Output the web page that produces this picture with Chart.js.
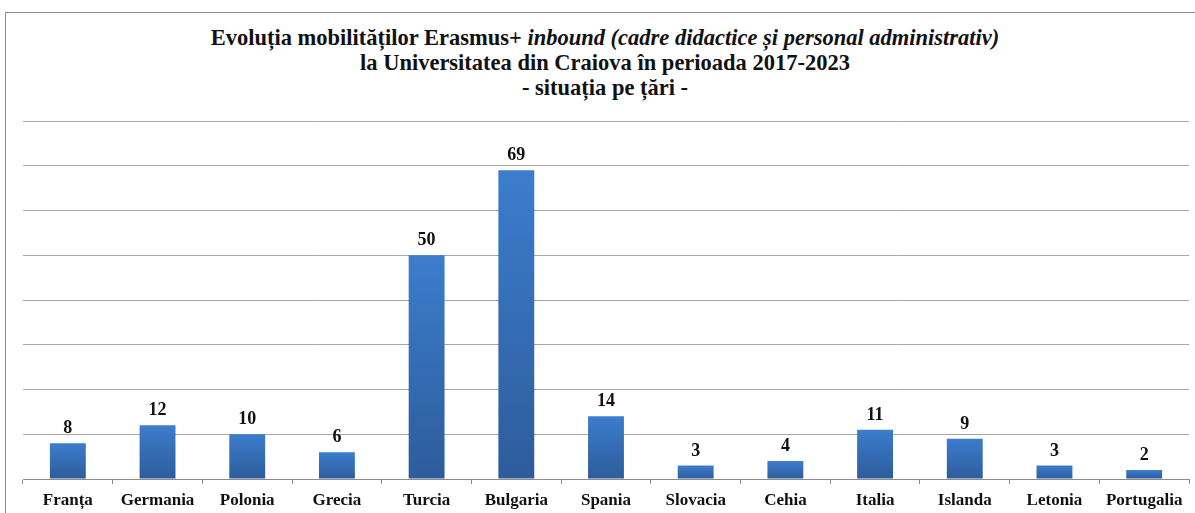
<!DOCTYPE html>
<html>
<head>
<meta charset="utf-8">
<script src="https://cdn.jsdelivr.net/npm/chart.js@4.4.1/dist/chart.umd.min.js"></script>
<style>
  body { margin: 0; background: #fff; width: 1195px; height: 513px; overflow: hidden; position: relative; }
  #cadru { position: absolute; left: 5px; top: 12px; width: 1200px; height: 520px; border: 1px solid #8c8c8c; }
  #titlu { position: absolute; left: 0; top: 25px; width: 1210px; text-align: center;
           font: bold 22.5px "Liberation Serif", "Times New Roman", serif; line-height: 25px; color: #111; }
  #grafic { position: absolute; left: 0; top: 0; }
</style>
</head>
<body>
<div id="cadru"></div>
<div id="titlu">
  Evoluția mobilităților Erasmus+ <i>inbound (cadre didactice și personal administrativ)</i><br>
  la Universitatea din Craiova în perioada 2017-2023<br>
  - situația pe țări -
</div>
<canvas id="grafic" width="1195" height="513"></canvas>
<script>
// tarile si numarul de mobilitati
let tari = ["Franța", "Germania", "Polonia", "Grecia", "Turcia", "Bulgaria", "Spania",
  "Slovacia", "Cehia", "Italia", "Islanda", "Letonia", "Portugalia"];
let mobilitati = [8, 12, 10, 6, 50, 69, 14, 3, 4, 11, 9, 3, 2];
let axaMax = 80;
let axaPas = 10;

const fontSerif = "'Liberation Serif', 'Times New Roman', serif";

// gradient pe fiecare bara: deschis sus, inchis jos
function culoareBara(context) {
  const chart = context.chart;
  if (!chart.chartArea || context.parsed === undefined) return "#3572b8";
  const y = chart.scales.y;
  const sus = y.getPixelForValue(context.parsed.y);
  const jos = y.getPixelForValue(0);
  if (!isFinite(sus) || sus >= jos) return "#3572b8";
  const g = chart.ctx.createLinearGradient(0, sus, 0, jos);
  g.addColorStop(0, "#3c7dcd");
  g.addColorStop(1, "#2d5c9b");
  return g;
}

// scrie valorile deasupra barelor
const etichete = {
  id: "etichete",
  afterDatasetsDraw(chart) {
    const ctx = chart.ctx;
    const meta = chart.getDatasetMeta(0);
    ctx.save();
    ctx.font = "bold 18px " + fontSerif;
    ctx.fillStyle = "#111";
    ctx.textAlign = "center";
    ctx.textBaseline = "alphabetic";
    meta.data.forEach(function (bar, i) {
      ctx.fillText(mobilitati[i], bar.x, bar.y - 10);
    });
    ctx.restore();
  }
};

var ctx = document.getElementById("grafic").getContext("2d");
var myChart = new Chart(ctx, {
  type: "bar",
  data: {
    labels: tari,
    datasets: [{
      data: mobilitati,
      backgroundColor: culoareBara,
      borderWidth: 0,
      categoryPercentage: 1,
      barPercentage: 0.4
    }]
  },
  options: {
    responsive: false,
    animation: false,
    layout: { padding: { left: 23, right: 6, top: 121, bottom: 0 } },
    plugins: {
      legend: { display: false },
      title: { display: false },
      tooltip: { enabled: false }
    },
    scales: {
      x: {
        grid: { offset: true, drawOnChartArea: false, drawTicks: true, tickLength: 5, color: "#8c8c8c" },
        border: { display: true, color: "#8c8c8c", width: 1 },
        ticks: { color: "#111", padding: 6, maxRotation: 0, autoSkip: false,
                 font: { family: fontSerif, size: 17, weight: "bold" } },
        afterFit: function (s) { s.height = 34; }
      },
      y: {
        min: 0,
        max: axaMax,
        ticks: { display: false, stepSize: axaPas },
        grid: { drawTicks: false, color: "#a6a6a6" },
        border: { display: false }
      }
    }
  },
  plugins: [etichete]
});
</script>
</body>
</html>
